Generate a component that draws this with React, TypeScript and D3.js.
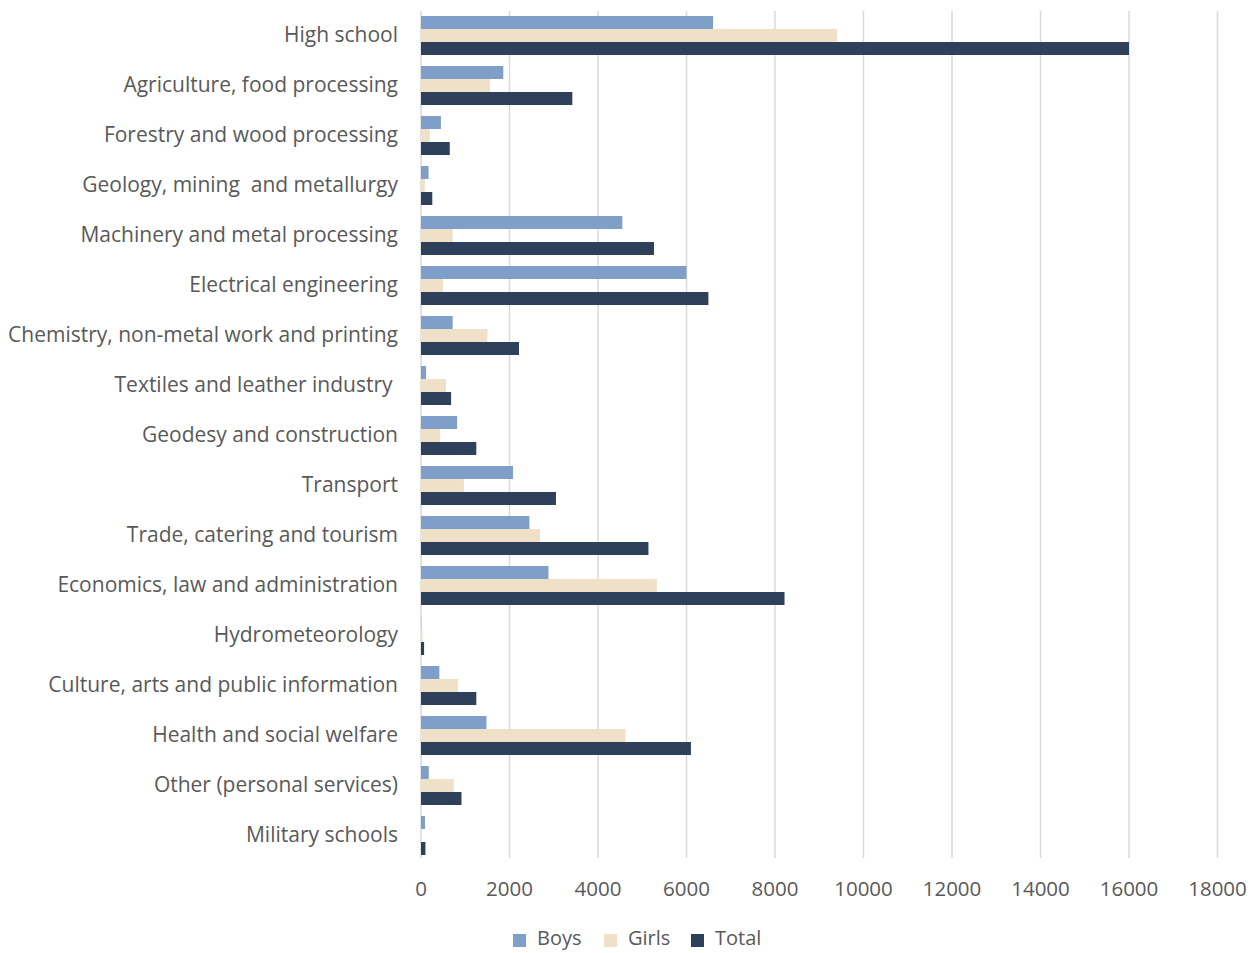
import { useEffect, useRef } from "react";
import * as d3 from "d3";

const categories = [
  "High school",
  "Agriculture, food processing",
  "Forestry and wood processing",
  "Geology, mining  and metallurgy",
  "Machinery and metal processing",
  "Electrical engineering",
  "Chemistry, non-metal work and printing",
  "Textiles and leather industry ",
  "Geodesy and construction",
  "Transport",
  "Trade, catering and tourism",
  "Economics, law and administration",
  "Hydrometeorology",
  "Culture, arts and public information",
  "Health and social welfare",
  "Other (personal services)",
  "Military schools",
];

const boys = [6600, 1860, 450, 170, 4550, 6000, 715, 115, 815, 2080, 2450, 2880, 5, 415, 1480, 175, 90];
const girls = [9400, 1560, 200, 85, 715, 495, 1500, 565, 435, 970, 2690, 5330, 35, 835, 4620, 740, 10];
const total = [16000, 3420, 650, 255, 5265, 6495, 2215, 680, 1250, 3050, 5140, 8215, 70, 1250, 6100, 915, 100];

const seriesNames = ["Boys", "Girls", "Total"];
const seriesColors = ["#7f9fc9", "#efe1c7", "#2f405a"];
const xTicks = [0, 2000, 4000, 6000, 8000, 10000, 12000, 14000, 16000, 18000];

export default function App() {
  const svgRef = useRef<SVGSVGElement | null>(null);

  useEffect(() => {
    if (!svgRef.current) return;
    const width = 1248;
    const height = 953;
    const font = "'Open Sans', sans-serif";
    const textColor = "#595959";
    const svg = d3.select(svgRef.current);
    svg.selectAll("*").remove();

    const x = d3.scaleLinear().domain([0, 18000]).range([421, 1217.5]);
    const y = d3.scaleBand<string>()
      .domain(categories)
      .range([10.5, 860.5])
      .paddingInner(0.22)
      .paddingOuter(0.11);
    const ys = d3.scaleBand<string>()
      .domain(seriesNames)
      .range([0, y.bandwidth()]);

    // gridlines
    svg.append("g")
      .selectAll("line")
      .data(xTicks)
      .join("line")
      .attr("x1", d => x(d))
      .attr("x2", d => x(d))
      .attr("y1", 11)
      .attr("y2", 858)
      .attr("stroke", "#d9d9d9")
      .attr("stroke-width", 1.5);

    const values = [boys, girls, total];
    const rows = categories.flatMap((c, i) =>
      seriesNames.map((s, j) => ({ cat: c, series: s, value: values[j][i], color: seriesColors[j] }))
    );

    svg.append("g")
      .selectAll("rect")
      .data(rows)
      .join("rect")
      .attr("x", x(0))
      .attr("y", d => (y(d.cat) as number) + (ys(d.series) as number))
      .attr("width", d => x(d.value) - x(0))
      .attr("height", ys.bandwidth())
      .attr("fill", d => d.color);

    // category labels
    svg.append("g")
      .selectAll("text")
      .data(categories)
      .join("text")
      .attr("x", 398)
      .attr("y", d => (y(d) as number) + y.bandwidth() / 2 + 1)
      .attr("text-anchor", "end")
      .attr("dominant-baseline", "middle")
      .style("white-space", "pre")
      .attr("font-family", font)
      .attr("font-size", 21)
      .attr("fill", textColor)
      .text(d => d);

    // x tick labels
    svg.append("g")
      .selectAll("text")
      .data(xTicks)
      .join("text")
      .attr("x", d => x(d))
      .attr("y", 891)
      .attr("text-anchor", "middle")
      .attr("dominant-baseline", "middle")
      .attr("font-family", font)
      .attr("font-size", 20.5)
      .attr("fill", textColor)
      .text(d => String(d));

    // legend
    const legendX = [513, 604, 691];
    const legend = svg.append("g")
      .selectAll("g")
      .data(seriesNames)
      .join("g")
      .attr("transform", (_, i) => `translate(${legendX[i]},940)`);
    legend.append("rect")
      .attr("x", 0)
      .attr("y", -6)
      .attr("width", 13)
      .attr("height", 13)
      .attr("fill", (_, i) => seriesColors[i]);
    legend.append("text")
      .attr("x", 24)
      .attr("y", 0)
      .attr("dominant-baseline", "middle")
      .attr("font-family", font)
      .attr("font-size", 20)
      .attr("fill", textColor)
      .text(d => d);

    svg.attr("width", width).attr("height", height);
  }, []);

  return (
    <svg
      ref={svgRef}
      width={1248}
      height={953}
      style={{ position: "absolute", left: 0, top: 0, background: "#fff" }}
    />
  );
}
